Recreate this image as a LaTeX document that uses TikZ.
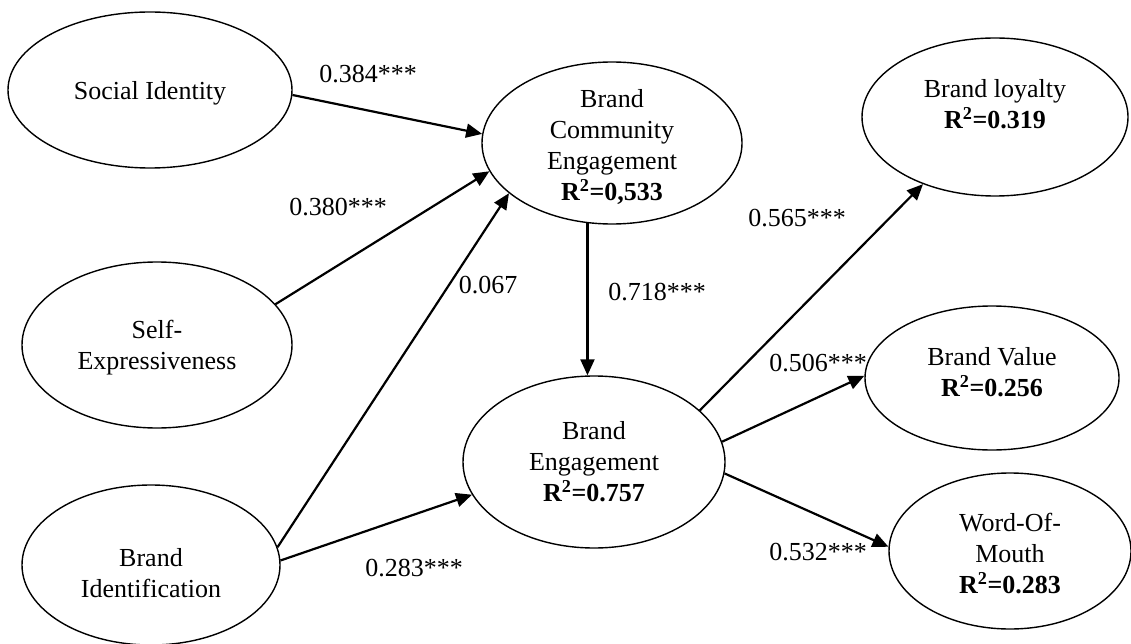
\documentclass[tikz,border=0pt]{standalone}
\usepackage{fontspec}
\setmainfont{Liberation Serif}
\usetikzlibrary{shapes.geometric,arrows.meta}
\begin{document}
\begin{tikzpicture}[x=1pt,y=-1pt,
  ell/.style={draw,ellipse,line width=1.4pt,inner sep=0pt},
  txt/.style={align=center,font=\fontsize{26}{31}\selectfont,inner sep=0pt},
  lbl/.style={font=\fontsize{26}{31}\selectfont,inner sep=0pt},
  arr/.style={line width=2.2pt,-{Triangle[length=16pt,width=14pt]}}]
\useasboundingbox (0,0) rectangle (1131,644);
% ellipses
\node[ell,minimum width=284pt,minimum height=156pt] (si)  at (150,90)  {};
\node[ell,minimum width=270pt,minimum height=166pt] (se)  at (157,345) {};
\node[ell,minimum width=258pt,minimum height=160pt] (bi)  at (151,565) {};
\node[ell,minimum width=260pt,minimum height=162pt] (bce) at (612,143) {};
\node[ell,minimum width=262pt,minimum height=172pt] (be)  at (594,462) {};
\node[ell,minimum width=266pt,minimum height=158pt] (bl)  at (995,117) {};
\node[ell,minimum width=254pt,minimum height=144pt] (bv)  at (992,378) {};
\node[ell,minimum width=242pt,minimum height=156pt] (wom) at (1010,551) {};
% texts
\node[txt] (sit)  at (150,93)  {Social Identity};
\node[txt] (set)  at (157,348) {Self-\\Expressiveness};
\node[txt] (bit)  at (151,573) {Brand\\Identification};
\node[txt] (bcet) at (612,147) {Brand\\Community\\Engagement\\\textbf{R\textsuperscript{2}=0,533}};
\node[txt] (bet)  at (594,462) {Brand\\Engagement\\\textbf{R\textsuperscript{2}=0.757}};
\node[txt] (blt)  at (995,104) {Brand loyalty\\\textbf{R\textsuperscript{2}=0.319}};
\node[txt] (bvt)  at (992,372) {Brand Value\\\textbf{R\textsuperscript{2}=0.256}};
\node[txt] (womt) at (1010,554) {Word-Of-\\Mouth\\\textbf{R\textsuperscript{2}=0.283}};
% connectors
\draw[arr] (si.-2) -- (bce.176);
\draw[arr] (se.19) -- (bce.193);
\draw[arr] (bi.8) -- (bce.206);
\draw[arr] (bi.2) -- (be.195);
\draw[arr] (bce.253) -- (bce.253 |- be.north);
\draw[arr] (be.26) -- (bl.223);
\draw[arr] (be.9) -- (bv.179);
\draw[arr] (be.-5) -- (wom.178);
% labels
\node[lbl] (l1) at (368,74)  {0.384***};
\node[lbl] (l2) at (338,207) {0.380***};
\node[lbl] (l3) at (488,285) {0.067};
\node[lbl] (l4) at (414,568) {0.283***};
\node[lbl] (l5) at (657,292) {0.718***};
\node[lbl] (l6) at (797,218) {0.565***};
\node[lbl] (l7) at (818,363) {0.506***};
\node[lbl] (l8) at (818,552) {0.532***};
\end{tikzpicture}
\end{document}
